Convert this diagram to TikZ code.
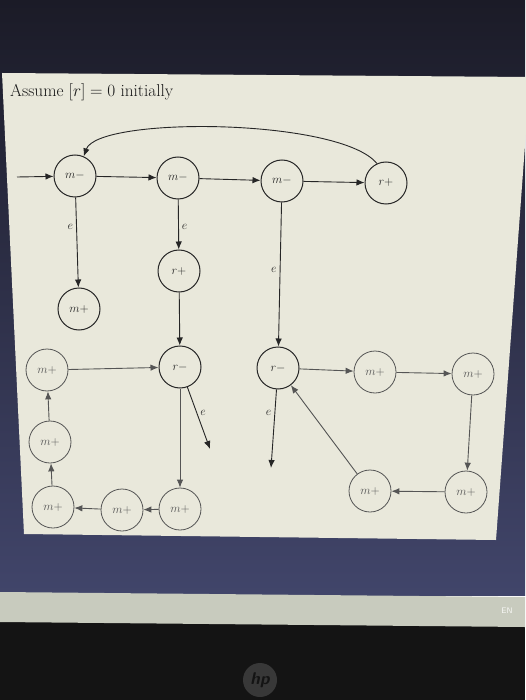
\documentclass[tikz,border=0pt]{standalone}
\usetikzlibrary{arrows.meta}
\definecolor{topdark}{HTML}{1B1B27}
\definecolor{navy}{HTML}{41456A}
\definecolor{panel}{HTML}{E9E8DB}
\definecolor{strip}{HTML}{C8CBBE}
\definecolor{ink}{HTML}{262626}
\definecolor{inkl}{HTML}{555555}
\tikzset{
  st/.style={circle,draw=ink,line width=1pt,minimum size=42pt,inner sep=0pt,
    font=\fontsize{13}{15}\selectfont,text=ink},
  stl/.style={st,draw=inkl,text=inkl,line width=0.8pt},
  arr/.style={draw=ink,line width=0.9pt,-{Latex[length=8pt,width=6.5pt]}},
  arrl/.style={arr,draw=inkl},
  lab/.style={font=\fontsize{13}{15}\selectfont,text=ink,inner sep=3pt}
}
\begin{document}
\begin{tikzpicture}[x=1pt,y=-1pt]
\useasboundingbox (0,0) rectangle (525,700);
% photo background
\shade[top color=topdark,bottom color=navy] (0,0) rectangle (525,595);
\fill[black!92] (0,620) rectangle (525,700);
\fill[strip] (0,592) -- (525,597) -- (525,627) -- (0,622) -- cycle;
\node[text=white!85!strip,font=\sffamily\fontsize{8}{9}\selectfont] (en) at (507,611) {EN};
\fill[black!78] (260,680) circle (17);
\node[text=black!92,font=\sffamily\bfseries\itshape\fontsize{17}{18}\selectfont] (hp) at (260,680) {hp};
\fill[panel] (2,73) -- (530,77) -- (496,540) -- (24,534) -- cycle;
% title
\node[anchor=base west,inner sep=0pt,text=black!90,font=\fontsize{17.2}{20}\selectfont] (title) at (10,97) {Assume $[r]=0$ initially};
% top row
\node[st] (m1) at (75,176) {$m-$};
\node[st] (m2) at (178,178) {$m-$};
\node[st] (m3) at (282,181) {$m-$};
\node[st] (rp) at (386,183) {$r+$};
\coordinate (in) at (17,177);
% second tier
\node[st] (mA) at (79,309) {$m+$};
\node[st] (rpA) at (179,271) {$r+$};
% middle row
\node[stl] (mL1) at (47,370) {$m+$};
\node[st] (rmL) at (180,367) {$r-$};
\node[st] (rmR) at (278,368) {$r-$};
\node[stl] (mR1) at (375,372) {$m+$};
\node[stl] (mR2) at (473,374) {$m+$};
% lower left loop
\node[stl] (mL2) at (50,442) {$m+$};
\node[stl] (mB1) at (53,507) {$m+$};
\node[stl] (mB2) at (122,510) {$m+$};
\node[stl] (mB3) at (180,509) {$m+$};
% lower right loop
\node[stl] (mR3) at (466,492) {$m+$};
\node[stl] (mR4) at (370,491) {$m+$};
\coordinate (eL) at (210,449);
\coordinate (eR) at (271,468);
% edges
\draw[arr] (in) -- (m1);
\draw[arr] (m1) -- (m2);
\draw[arr] (m2) -- (m3);
\draw[arr] (m3) -- (rp);
\draw[arr] (rp.115) .. controls (340,118) and (98,116) .. (m1.66);
\draw[arr] (m1) -- node[lab,pos=0.33,left]{$e$} (mA);
\draw[arr] (m2) -- node[lab,pos=0.55,right]{$e$} (rpA);
\draw[arr] (rpA) -- (rmL);
\draw[arr] (m3) -- node[lab,pos=0.47,left]{$e$} (rmR);
\draw[arrl] (mL1) -- (rmL);
\draw[arrl] (rmL) -- (mB3);
\draw[arr] (rmL) -- node[lab,pos=0.42,right]{$e$} (eL);
\draw[arrl] (mB3) -- (mB2);
\draw[arrl] (mB2) -- (mB1);
\draw[arrl] (mB1) -- (mL2);
\draw[arrl] (mL2) -- (mL1);
\draw[arrl] (rmR) -- (mR1);
\draw[arrl] (mR1) -- (mR2);
\draw[arrl] (mR2) -- (mR3);
\draw[arrl] (mR3) -- (mR4);
\draw[arrl] (mR4) -- (rmR);
\draw[arr] (rmR) -- node[lab,pos=0.3,left]{$e$} (eR);
\end{tikzpicture}
\end{document}
